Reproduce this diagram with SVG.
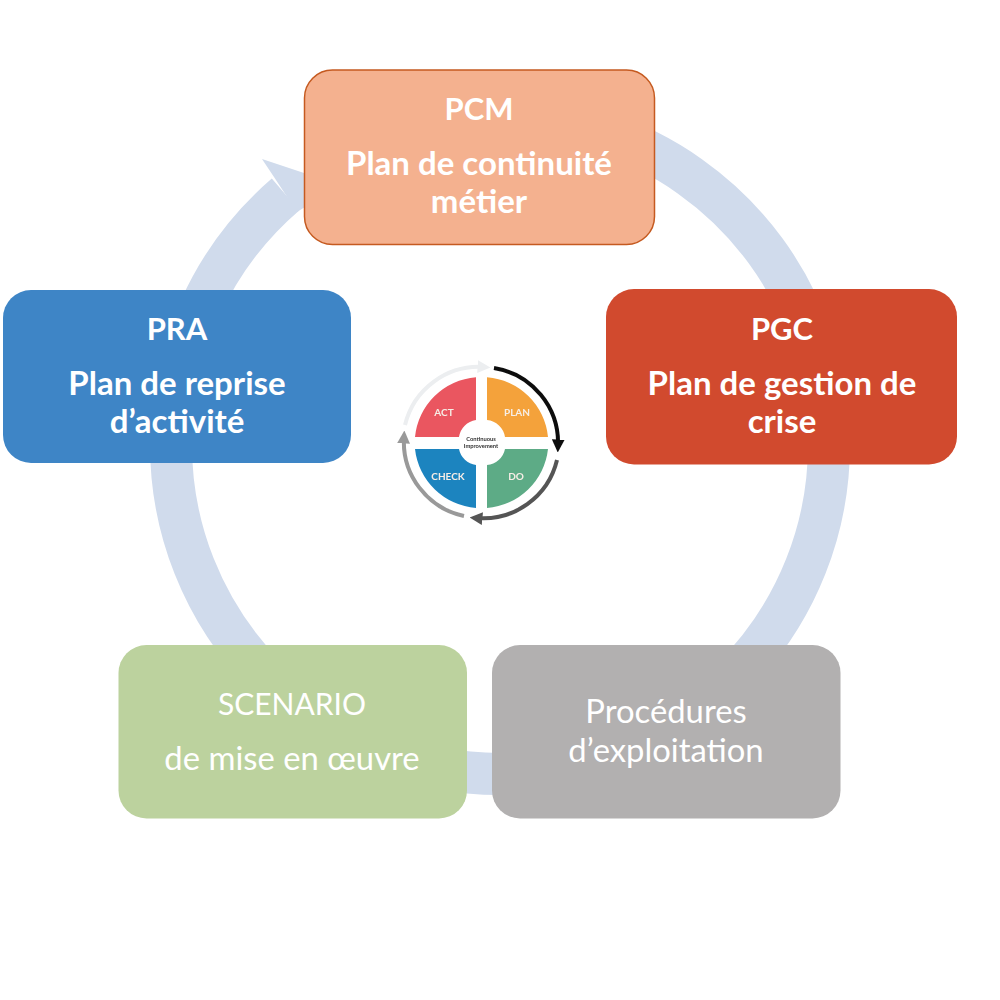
<svg xmlns="http://www.w3.org/2000/svg" width="1000" height="1000" viewBox="0 0 1000 1000">
<style>
text{font-family:Lato,"Liberation Sans",sans-serif;fill:#fff;text-anchor:middle}
.h{font-size:31px;font-weight:700}
.b{font-size:33px;font-weight:700}
.r{font-size:32.800px;font-weight:400}
.s{font-size:30px;font-weight:400}
.q{font-size:10px;font-weight:700;fill:#f6eee6}
.c{font-size:5.800px;font-weight:700;fill:#333}
.arc{fill:none;stroke-width:4}
</style>
<defs>
<filter id="soft" x="-5%" y="-5%" width="110%" height="110%"><feGaussianBlur stdDeviation="0.6"/></filter>
<marker id="ah" viewBox="0 0 10 10" refX="5" refY="5" markerWidth="3.200" markerHeight="3.200" orient="auto"><path d="M0 0L10 5L0 10z" fill="context-stroke"/></marker>
</defs>
<rect width="1000" height="1000" fill="#fff"/>
<g id="connectors">
<path d="M600 131.600A329 329 0 0 1 829 445A329 329 0 0 1 171 445A329 329 0 0 1 285.500 194.500" fill="none" stroke="#d0dbec" stroke-width="42"/>
<path d="M262 159L340 185L297 212L274 177z" fill="#d0dbec"/>
</g>
<g id="pcm"><rect x="304.500" y="70" width="350" height="174.500" rx="28" fill="#f4b18f" stroke="#c55a20" stroke-width="1.500"/>
<text class="h" x="479" y="120">PCM</text><text class="b" x="479" y="175">Plan de continuité</text><text class="b" x="479" y="213">métier</text></g>
<g id="pgc"><rect x="606" y="289" width="351" height="175.500" rx="28" fill="#d14a2e"/>
<text class="h" x="782" y="340">PGC</text><text class="b" x="782" y="395">Plan de gestion de</text><text class="b" x="782" y="433">crise</text></g>
<g id="pra"><rect x="3" y="290" width="348" height="173" rx="28" fill="#3e85c6"/>
<text class="h" x="177" y="340">PRA</text><text class="b" x="177" y="395">Plan de reprise</text><text class="b" x="177" y="433">d’activité</text></g>
<g id="scenario"><rect x="118.500" y="645" width="348.500" height="173.500" rx="28" fill="#bcd29e"/>
<text class="s" x="292" y="715">SCENARIO</text><text class="r" x="292" y="770">de mise en œuvre</text></g>
<g id="procedures"><rect x="492" y="645" width="348.500" height="173.500" rx="28" fill="#b2b0b0"/>
<text class="r" x="666" y="723">Procédures</text><text class="r" x="666" y="762">d’exploitation</text></g>
<g id="pdca" filter="url(#soft)">
<path d="M487 377.200A66.500 66.500 0 0 1 548 437L505 437A20 20 0 0 0 487 420z" fill="#f4a23a"/>
<path d="M487 508A66.500 66.500 0 0 0 548 449L505 449A20 20 0 0 1 487 465z" fill="#5dab86"/>
<path d="M476 508A66.500 66.500 0 0 1 415 449L459 449A20 20 0 0 0 476 465z" fill="#1f84bf"/>
<path d="M476 377.200A66.500 66.500 0 0 0 415 437L459 437A20 20 0 0 1 476 420z" fill="#ea5660"/>
<path class="arc" d="M494 368A76 76 0 0 1 558 446" stroke="#111" marker-end="url(#ah)"/>
<path class="arc" d="M557 460A76 76 0 0 1 476 518" stroke="#555" marker-end="url(#ah)"/>
<path class="arc" d="M464 516A76 76 0 0 1 404 437" stroke="#999" marker-end="url(#ah)"/>
<path class="arc" d="M405 425A76 76 0 0 1 484 367" stroke="#eceef0" marker-end="url(#ah)"/>
<text class="q" x="444" y="416">ACT</text>
<text class="q" x="517" y="416">PLAN</text>
<text class="q" x="448" y="480">CHECK</text>
<text class="q" x="516" y="480">DO</text>
<text class="c" x="481" y="441">Continuous</text>
<text class="c" x="481" y="448">Improvement</text>
</g>
</svg>
